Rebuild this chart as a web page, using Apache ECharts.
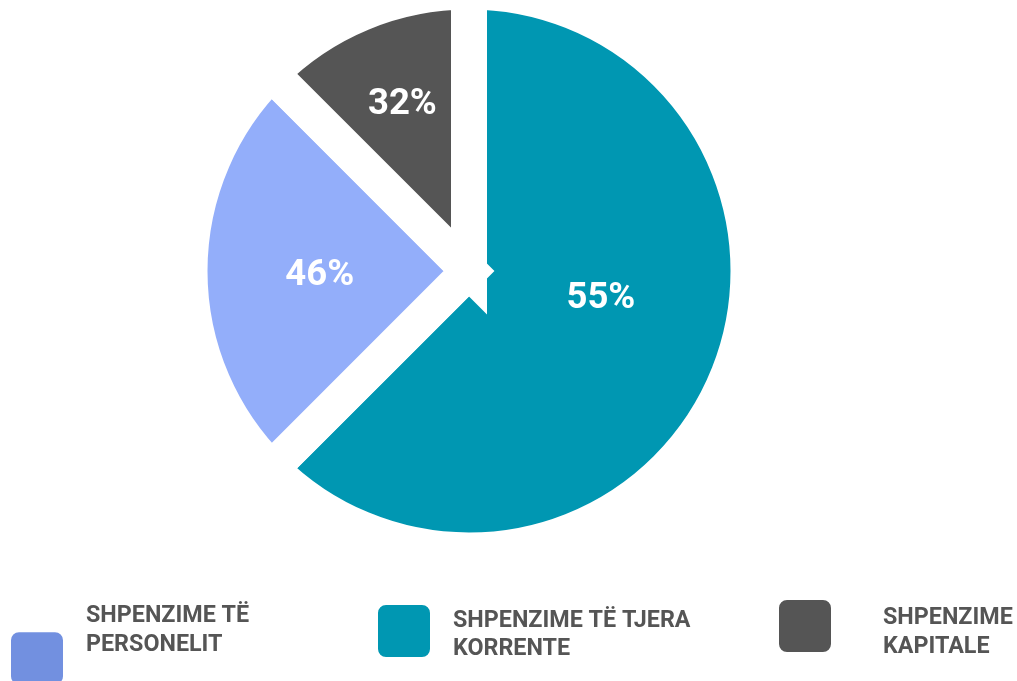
<!DOCTYPE html>
<html><head><meta charset="utf-8">
<script src="https://cdn.jsdelivr.net/npm/echarts@6/dist/echarts.min.js"></script>
<style>html,body{margin:0;padding:0;background:#fff}#chart{width:1017px;height:681px}</style>
</head><body><div id="chart"></div>
<script>
// ---- data ----
const categories = ['SHPENZIME TË TJERA\nKORRENTE', 'SHPENZIME TË\nPERSONELIT', 'SHPENZIME\nKAPITALE'];
const sliceShares = [62.5, 25, 12.5];
const labelTexts = ['55%', '46%', '32%'];
const legendOrder = ['SHPENZIME TË\nPERSONELIT', 'SHPENZIME TË TJERA\nKORRENTE', 'SHPENZIME\nKAPITALE'];

// ---- styles ----
const sliceColors = ['#0097B2', '#93AEFA', '#555555'];
const legendIconColors = ['#7290E0', '#0097B2', '#555555'];
// label nudges: [spacer above, spacer below, right padding]
const labelNudges = [[0, 54, 0], [9, 0, 13], [0, 68, 24]];
// legend placement: left, top, spacer above, spacer below, text indent
const legendBoxes = [
  { left: 9, top: 605, above: 0, below: 55, indent: 17 },
  { left: 376, top: 602, above: 8, below: 0, indent: 17 },
  { left: 777, top: 597, above: 13, below: 0, indent: 46 }
];
const iconPath = 'path://M9,0H45A9,9,0,0,1,54,9V45A9,9,0,0,1,45,54H9A9,9,0,0,1,0,45V9A9,9,0,0,1,9,0Z';

const chart = echarts.init(document.getElementById('chart'), null, { renderer: 'canvas' });

function spaced(lines, above, below) {
  let s = '';
  if (above > 0) s += '{a| }\n';
  s += lines.map(l => '{t|' + l + '}').join('\n');
  if (below > 0) s += '\n{b| }';
  return s;
}

const pieData = categories.map((name, i) => {
  const n = labelNudges[i];
  return {
    name: name,
    value: sliceShares[i],
    itemStyle: { color: sliceColors[i] },
    label: {
      formatter: spaced([labelTexts[i]], n[0], n[1]),
      padding: [0, n[2], 0, 0],
      rich: {
        t: { fontSize: 36.5, fontWeight: 'bold', fontFamily: 'Roboto', color: '#ffffff', lineHeight: 44 },
        a: { fontSize: 1, lineHeight: n[0] || 1 },
        b: { fontSize: 1, lineHeight: n[1] || 1 }
      }
    }
  };
});

const legends = legendOrder.map((name, i) => {
  const b = legendBoxes[i];
  return {
    show: true,
    orient: 'horizontal',
    left: b.left,
    top: b.top,
    padding: 0,
    itemWidth: 54,
    itemHeight: 54,
    selectedMode: false,
    icon: iconPath,
    data: [{ name: name, itemStyle: { color: legendIconColors[i] } }],
    formatter: function (nm) { return spaced(nm.split('\n'), b.above, b.below); },
    textStyle: {
      color: '#555555',
      fontSize: 23.3,
      fontWeight: 'bold',
      fontFamily: 'Roboto',
      padding: [0, 0, 0, b.indent],
      rich: {
        t: { color: '#555555', fontSize: 23.3, fontWeight: 'bold', fontFamily: 'Roboto', lineHeight: 28.5 },
        a: { fontSize: 1, lineHeight: b.above || 1 },
        b: { fontSize: 1, lineHeight: b.below || 1 }
      }
    }
  };
});

chart.setOption({
  animation: false,
  backgroundColor: '#ffffff',
  legend: legends,
  series: [{
    type: 'pie',
    center: [469, 271],
    radius: 279.5,
    startAngle: 90,
    clockwise: true,
    avoidLabelOverlap: false,
    silent: true,
    itemStyle: { borderColor: '#ffffff', borderWidth: 36, borderJoin: 'miter' },
    label: {
      show: true,
      position: 'inside',
      color: '#ffffff',
      fontSize: 36.5,
      fontWeight: 'bold',
      fontFamily: 'Roboto'
    },
    labelLine: { show: false },
    emphasis: { disabled: true },
    data: pieData
  }]
});
</script></body></html>
